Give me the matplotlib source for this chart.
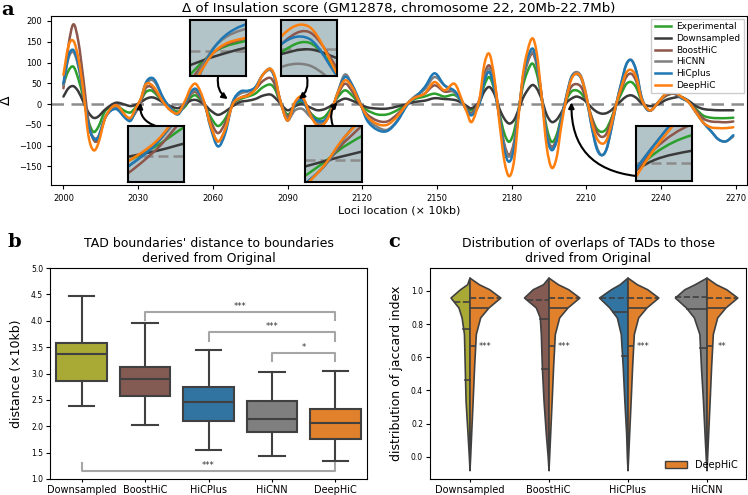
import numpy as np
import matplotlib
matplotlib.use("Agg")
import matplotlib.pyplot as plt
from matplotlib.patches import Patch, PathPatch
from matplotlib.lines import Line2D
from matplotlib.path import Path

# --- panel a: insulation score delta ---
loci = [2000, 2002, 2004, 2006, 2008, 2010, 2012, 2014, 2017,
        2021, 2025, 2027, 2029, 2031, 2033, 2035, 2037,
        2040, 2043, 2046, 2049, 2051, 2053, 2055, 2057, 2059,
        2062, 2065, 2068, 2071, 2074, 2077, 2080, 2083, 2085, 2087,
        2090, 2093, 2096, 2099, 2102, 2105, 2108, 2110, 2113, 2116, 2119,
        2122, 2126, 2130, 2134, 2138, 2141, 2145, 2149, 2153, 2157,
        2160, 2162, 2164, 2167, 2169, 2171, 2173, 2175, 2177, 2179,
        2181, 2183, 2185, 2188, 2190, 2192, 2194, 2196, 2198, 2200,
        2202, 2204, 2206, 2208, 2210, 2212, 2214, 2216, 2218, 2220,
        2222, 2224, 2226, 2228, 2230, 2232, 2234, 2236, 2239,
        2242, 2245, 2248, 2251, 2254, 2257, 2260, 2263, 2266, 2269]

experimental = [48, 80, 90, 60, 15, -40, -67, -55, -15,
                -5, -18, -20, -8, 8, 28, 33, 25,
                5, -10, -18, -5, 15, 21, 10, -5, -30,
                -53, -35, 0, 12, 18, 25, 40, 47, 35, 5,
                -25, -5, 5, -20, -35, -30, -5, 15, 33, 20, 0,
                -15, -25, -25, -15, 0, 12, 18, 25, 18, 22,
                5, -8, -15, 5, 45, 65, 35, -20, -70, -91,
                -65, -5, 55, 97, 75, 15, -55, -91, -75, -30,
                10, 30, 33, 25, 5, -30, -58, -67, -60, -35,
                -2, 25, 48, 53, 40, 10, -10, -15, 5,
                20, 25, 18, 5, -12, -28, -33, -34, -34, -33]

downsampled = [18, 38, 43, 30, 5, -20, -33, -30, -12,
               3, -2, -5, -2, 4, 12, 16, 14,
               4, -5, -10, 0, 8, 10, 5, -3, -15,
               -26, -18, -5, 5, 8, 12, 20, 23, 15, 2,
               -15, -5, 0, -8, -15, -12, -2, 5, 13, 8, 0,
               -8, -11, -11, -6, 0, 5, 8, 14, 12, 10,
               3, -5, -10, 5, 30, 41, 25, -10, -35, -47,
               -38, -10, 20, 45, 38, 12, -25, -43, -38, -20,
               3, 13, 18, 14, 5, -8, -18, -23, -22, -15,
               -3, 8, 18, 21, 15, 3, -3, -5, 0,
               10, 15, 17, 8, -5, -12, -14, -15, -15, -15]

boosthic = [38, 140, 192, 150, 60, -40, -85, -85, -30,
            -2, -30, -35, -20, 5, 38, 42, 30,
            5, -15, -22, 0, 22, 29, 15, -8, -40,
            -70, -45, 0, 15, 22, 35, 55, 63, 45, 5,
            -30, 0, 13, -20, -50, -45, -10, 20, 49, 30, 0,
            -25, -40, -42, -25, 0, 15, 25, 45, 30, 30,
            5, -12, -22, 10, 70, 93, 55, -25, -95, -123,
            -90, -10, 70, 121, 95, 20, -70, -103, -85, -35,
            15, 42, 48, 40, 10, -30, -65, -79, -72, -40,
            0, 35, 65, 73, 55, 15, -10, -15, 5,
            20, 25, 15, 5, -15, -35, -42, -43, -44, -42]

hicnn = [45, 110, 125, 90, 25, -50, -80, -78, -30,
         -8, -30, -38, -15, 10, 45, 58, 50,
         15, -10, -22, 5, 25, 33, 20, -5, -50,
         -90, -60, 5, 25, 30, 40, 70, 82, 60, 10,
         -35, -15, -12, -30, -45, -40, -10, 25, 71, 45, 5,
         -35, -55, -62, -40, 0, 18, 35, 65, 45, 28,
         5, -15, -25, 5, 60, 85, 45, -30, -100, -127,
         -95, -10, 75, 125, 100, 20, -70, -108, -90, -35,
         20, 65, 77, 65, 20, -50, -100, -123, -110, -60,
         0, 50, 95, 106, 80, 20, -10, -15, 5,
         25, 30, 15, 5, -20, -45, -65, -85, -90, -78]

hicplus = [50, 115, 130, 95, 25, -50, -82, -80, -30,
           -12, -35, -40, -15, 10, 50, 63, 55,
           15, -10, -25, 5, 28, 37, 22, -5, -55,
           -102, -70, 5, 30, 32, 40, 70, 85, 60, 10,
           -40, 0, 8, -25, -40, -38, -10, 25, 65, 45, 5,
           -40, -62, -65, -42, -3, 15, 40, 74, 45, 32,
           5, -15, -27, 0, 55, 77, 40, -30, -110, -139,
           -105, -10, 80, 133, 105, 20, -75, -111, -90, -35,
           20, 65, 72, 60, 15, -50, -105, -123, -110, -60,
           0, 50, 95, 106, 80, 20, -10, -15, 5,
           25, 30, 15, 5, -20, -45, -65, -85, -90, -75]

deephic = [70, 140, 152, 110, 30, -75, -111, -95, -30,
           -3, -28, -33, -10, 12, 47, 48, 35,
           5, -15, -22, 10, 38, 49, 30, -5, -50,
           -90, -60, 0, 15, 20, 35, 70, 85, 65, 10,
           -40, 5, 17, -25, -52, -45, -10, 25, 57, 40, 3,
           -30, -48, -50, -30, 0, 15, 25, 53, 33, 49,
           10, -20, -43, 10, 95, 121, 65, -40, -135, -174,
           -135, -15, 90, 157, 125, 20, -100, -153, -130, -50,
           15, 60, 73, 62, 18, -40, -80, -95, -88, -50,
           0, 40, 75, 82, 65, 15, -8, -15, 5,
           25, 30, 18, 5, -20, -45, -56, -58, -58, -56]

series_names = ["Experimental", "Downsampled", "BoostHiC", "HiCNN", "HiCplus", "DeepHiC"]
series_vals = [experimental, downsampled, boosthic, hicnn, hicplus, deephic]
series_cols = ["#2ca02c", "#3a3a3a", "#8c564b", "#7f7f7f", "#1f77b4", "#ff7f0e"]

# --- panel b: boundary distances (box stats) ---
box_labels = ["Downsampled", "BoostHiC", "HiCPlus", "HiCNN", "DeepHiC"]
box_lo = [2.38, 2.03, 1.55, 1.44, 1.35]
box_q1 = [2.85, 2.57, 2.10, 1.90, 1.75]
box_med = [3.37, 2.90, 2.46, 2.13, 2.07]
box_q3 = [3.57, 3.12, 2.75, 2.47, 2.33]
box_hi = [4.47, 3.96, 3.45, 3.02, 3.05]
box_cols = ["#a9aa36", "#845b53", "#3274a1", "#7f7f7f", "#e1812c"]

# --- panel c: jaccard index violins (half widths read at each level) ---
vio_labels = ["Downsampled", "BoostHiC", "HiCPlus", "HiCNN"]
vio_levels = [-0.08, 0.0, 0.14, 0.34, 0.54, 0.74, 0.84, 0.90, 0.96, 1.01, 1.04, 1.08]
w_downsampled = [0, 0.008, 0.025, 0.05, 0.06, 0.07, 0.10, 0.14, 0.24, 0.12, 0.03, 0]
w_boosthic = [0, 0.01, 0.034, 0.063, 0.084, 0.097, 0.11, 0.16, 0.31, 0.20, 0.07, 0]
w_hicplus = [0, 0.008, 0.017, 0.04, 0.06, 0.085, 0.135, 0.23, 0.36, 0.21, 0.10, 0]
w_hicnn = [0, 0.01, 0.025, 0.045, 0.07, 0.09, 0.16, 0.26, 0.40, 0.28, 0.15, 0]
w_deephic = [0, 0.008, 0.021, 0.04, 0.058, 0.08, 0.135, 0.24, 0.39, 0.25, 0.12, 0]
quart_left = [[0.465, 0.77, 0.932], [0.53, 0.83, 0.945], [0.61, 0.87, 0.955], [0.655, 0.89, 0.962]]
quart_deephic = [0.665, 0.895, 0.958]
vio_stars = ["***", "***", "***", "**"]
vio_cols = ["#a9aa36", "#845b53", "#3274a1", "#7f7f7f"]
deep_col = "#e1812c"
edge = "#404040"

fig = plt.figure(figsize=(7.48, 4.95), dpi=100)
W, H = 748.0, 495.0


def fbox(x0, y0, x1, y1):
    # pixel box (top-left origin) -> figure fraction rect
    return [x0 / W, 1 - y1 / H, (x1 - x0) / W, (y1 - y0) / H]


def fpt(x, y):
    return (x / W, 1 - y / H)


def smooth_path(x, y):
    # draw the read points as a smooth (Catmull-Rom style) bezier line
    pts = np.column_stack([np.asarray(x, float), np.asarray(y, float)])
    ext = np.vstack([pts[0], pts, pts[-1]])
    verts, codes = [pts[0]], [Path.MOVETO]
    for i in range(len(pts) - 1):
        p0, p1, p2, p3 = ext[i], ext[i + 1], ext[i + 2], ext[i + 3]
        verts += [p1 + (p2 - p0) / 6, p2 - (p3 - p1) / 6, p2]
        codes += [Path.CURVE4] * 3
    return Path(verts, codes)


def draw_series(a, lw=1.8):
    for vals, c in zip(series_vals, series_cols):
        a.add_patch(PathPatch(smooth_path(loci, vals), fill=False, edgecolor=c, lw=lw,
                              capstyle="round", joinstyle="round", zorder=2))


# ================= a =================
ax = fig.add_axes(fbox(51, 16, 747, 185))
ax.axhline(0, color="#8c8c8c", lw=1.8, ls="--", dashes=(5, 3), zorder=1)
draw_series(ax)
ax.set_xlim(1995, 2274.5)
ax.set_ylim(-195, 212)
ax.set_xticks(np.arange(2000, 2271, 30))
ax.set_yticks(np.arange(-150, 201, 50))
ax.tick_params(labelsize=6, length=3)
ax.set_ylabel("Δ", fontsize=10)
ax.yaxis.set_label_coords(-0.055, 0.5)
ax.set_xlabel("Loci location (× 10kb)", fontsize=8, labelpad=2)
ax.set_title("Δ of Insulation score (GM12878, chromosome 22, 20Mb-22.7Mb)", fontsize=9.6, pad=3)
handles = [Line2D([], [], color=c, lw=1.8, label=n) for n, c in zip(series_names, series_cols)]
leg = ax.legend(handles=handles, loc="upper right", fontsize=6.5, labelspacing=0.3,
                handlelength=1.8, handletextpad=0.6, borderaxespad=0.3,
                framealpha=1, fancybox=False)
leg.get_frame().set_edgecolor("#cccccc")

# insets: (pixel box, xlim, ylim, arrow start px, arrow target, rad)
insets = [
    ((128, 126, 184, 182), (2029.5, 2032.5), (-22, 25), (156, 126), (2031, 3), -0.4),
    ((190, 20, 246, 76), (2066, 2070.5), (-25, 32), (218, 77), (2066, 12), 0.3),
    ((281, 20, 337, 76), (2093.5, 2098.5), (-20, 22), (307, 77), (2094.5, 12), -0.3),
    ((305, 126, 362, 182), (2107, 2111), (-20, 32), (333, 126), (2110, 4), -0.3),
    ((636, 126, 692, 181), (2201, 2204), (-20, 40), (636, 176), (2204, 4), -0.45),
]
for box, xl, yl, start, target, rad in insets:
    ia = fig.add_axes(fbox(*box))
    ia.set_facecolor("#b3c4c8")
    ia.axhline(0, color="#8c8c8c", lw=1.8, ls="--", dashes=(4, 2))
    draw_series(ia)
    ia.set_xlim(*xl)
    ia.set_ylim(*yl)
    ia.set_xticks([])
    ia.set_yticks([])
    for s in ia.spines.values():
        s.set_linewidth(1.5)
    ax.annotate("", xy=target, xycoords="data", xytext=fpt(*start), textcoords="figure fraction",
                arrowprops=dict(arrowstyle="-|>", color="black", lw=1.5, mutation_scale=8,
                                shrinkA=0, shrinkB=0, connectionstyle=f"arc3,rad={rad}"),
                zorder=5)

# ================= b =================
bx = fig.add_axes(fbox(50, 268, 367, 479))
stats = []
for i, lab in enumerate(box_labels):
    stats.append(dict(label=lab, whislo=box_lo[i], q1=box_q1[i], med=box_med[i],
                      q3=box_q3[i], whishi=box_hi[i], fliers=[]))
bp = bx.bxp(stats, positions=range(len(stats)), widths=0.8, patch_artist=True, showfliers=False,
            boxprops=dict(edgecolor=edge, linewidth=1.5),
            medianprops=dict(color=edge, linewidth=1.5),
            whiskerprops=dict(color=edge, linewidth=1.5),
            capprops=dict(color=edge, linewidth=1.5))
for patch, c in zip(bp["boxes"], box_cols):
    patch.set_facecolor(c)
bx.set_xlim(-0.5, 4.5)
bx.set_ylim(1.0, 5.0)
bx.set_yticks(np.arange(1.0, 5.01, 0.5))
bx.tick_params(axis="y", labelsize=5.5, length=3, pad=2)
bx.tick_params(axis="x", labelsize=7, length=2.5, pad=1.5)
bx.set_ylabel("distance (×10kb)", fontsize=9)
bx.yaxis.set_label_coords(-0.085, 0.5)
bx.set_title("TAD boundaries' distance to boundaries\nderived from Original", fontsize=9, pad=4)

# significance brackets: (from idx, to idx, line y, tick end y, label)
brackets = [(1, 4, 4.16, 4.02, "***"), (2, 4, 3.79, 3.62, "***"),
            (3, 4, 3.38, 3.23, "*"), (0, 4, 1.16, 1.30, "***")]
for i0, i1, yl, yt, lab in brackets:
    bx.plot([i0, i0, i1, i1], [yt, yl, yl, yt], color="#a6a6a6", lw=1.5)
    bx.text((i0 + i1) / 2, yl + 0.02, lab, ha="center", va="bottom", fontsize=6, color="#333333")

# ================= c =================
cx = fig.add_axes(fbox(430, 268, 746, 479))
lv = np.array(vio_levels)
wd = np.array(w_deephic)
for i, (wl, c) in enumerate(zip([w_downsampled, w_boosthic, w_hicplus, w_hicnn], vio_cols)):
    wl = np.array(wl)
    cx.fill_betweenx(lv, i - wl, i, facecolor=c, edgecolor=edge, lw=1.2)
    cx.fill_betweenx(lv, i, i + wd, facecolor=deep_col, edgecolor=edge, lw=1.2)
    for k, q in enumerate(quart_left[i]):
        hw = np.interp(q, lv, wl)
        cx.plot([i - hw, i], [q, q], color=edge, lw=1.2, ls="--" if k == 2 else "-")
    for k, q in enumerate(quart_deephic):
        hw = np.interp(q, lv, wd)
        cx.plot([i, i + hw], [q, q], color=edge, lw=1.2, ls="--" if k == 2 else "-")
    cx.text(i + 0.2, quart_deephic[0], vio_stars[i], ha="center", va="center", fontsize=6, color="#333333")
cx.set_xlim(-0.5, 3.5)
cx.set_ylim(-0.134, 1.138)
cx.set_xticks(range(4))
cx.set_xticklabels(vio_labels)
cx.set_yticks(np.arange(0, 1.01, 0.2))
cx.tick_params(axis="y", labelsize=5.5, length=3, pad=2)
cx.tick_params(axis="x", labelsize=7, length=2.5, pad=1.5)
cx.set_ylabel("distribution of jaccard index", fontsize=9)
cx.yaxis.set_label_coords(-0.085, 0.5)
cx.set_title("Distribution of overlaps of TADs to those\ndrived from Original", fontsize=9, pad=4)
cx.legend(handles=[Patch(facecolor=deep_col, edgecolor=edge, label="DeepHiC")],
          loc="lower right", frameon=False, fontsize=7, handlelength=2.2)

# panel letters
for lab, (px, py) in zip("abc", [(8, 10), (14, 242), (394, 242)]):
    fig.text(*fpt(px, py), lab, fontsize=14, fontweight="bold", family="DejaVu Serif",
             ha="center", va="center")

fig.savefig("out.png", dpi=100)
